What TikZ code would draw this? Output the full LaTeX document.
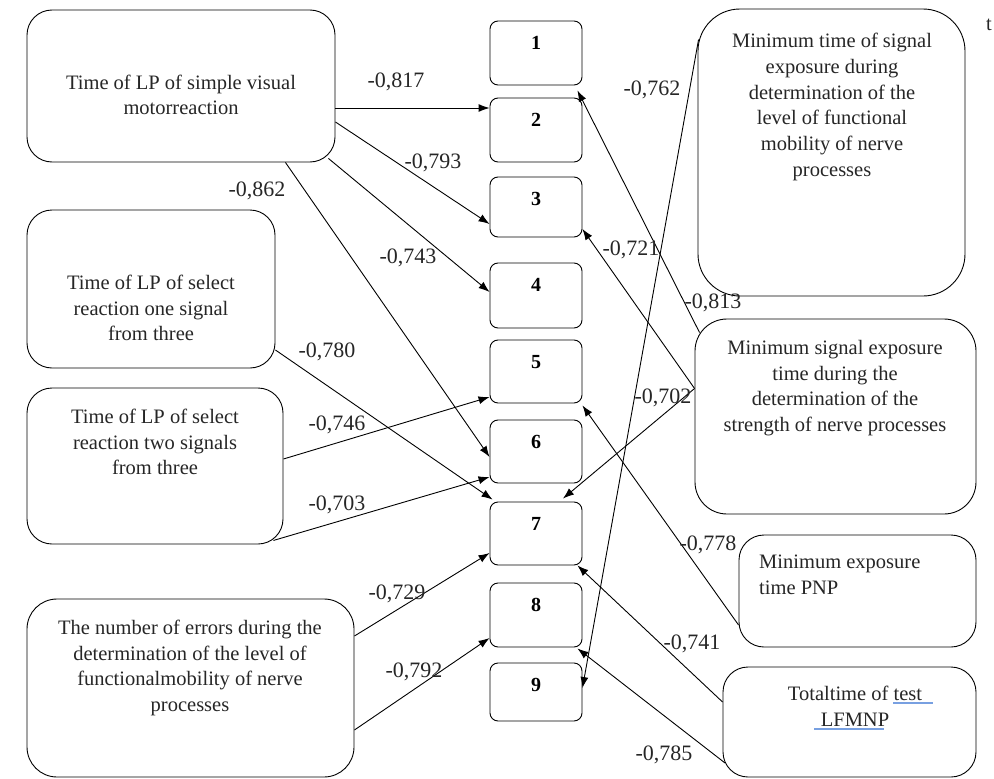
\documentclass[tikz,border=0pt]{standalone}
\usepackage{fontspec}
\setmainfont{Liberation Serif}
\usetikzlibrary{arrows.meta,calc}
\definecolor{spellblue}{RGB}{120,160,225}
\tikzset{
  bigbox/.style={draw, line width=0.9pt, rounded corners=25pt, inner sep=0pt},
  smallbox/.style={draw, line width=0.9pt, rounded corners=8pt, minimum width=92pt, inner sep=0pt},
  txt/.style={font=\fontsize{20.5}{25.7}\selectfont, align=center, inner sep=0pt, text=black!85},
  num/.style={font=\fontsize{20}{24}\selectfont\bfseries, inner sep=0pt},
  lbl/.style={font=\fontsize{22}{26}\selectfont, inner sep=0pt, text=black!85},
  arr/.style={-{Latex[length=11pt,width=8pt]}, line width=0.9pt},
  spell/.style={line width=2.5pt, spellblue},
}
\begin{document}
\begin{tikzpicture}[x=1pt,y=-1pt]
\useasboundingbox (0,0) rectangle (994,779);
% left boxes
\node[bigbox, minimum width=308pt, minimum height=152pt] (A) at (181,86) {};
\node[txt] (At) at (181,95) {Time of LP of simple visual\\motorreaction};
\node[bigbox, minimum width=248pt, minimum height=158pt] (B) at (151,289) {};
\node[txt] (Bt) at (151,308) {Time of LP of select\\reaction one signal\\from three};
\node[bigbox, minimum width=256pt, minimum height=156pt] (C) at (155,466) {};
\node[txt] (Ct) at (155,442) {Time of LP of select\\reaction two signals\\from three};
\node[bigbox, minimum width=327pt, minimum height=178pt, rounded corners=30pt] (D) at (190.5,688) {};
\node[txt] (Dt) at (190,668) {The number of errors during the\\determination of the level of\\functionalmobility of nerve\\processes};
% right boxes
\node[bigbox, minimum width=267pt, minimum height=287pt, rounded corners=42pt] (E) at (831.5,152.5) {};
\node[txt] (Et) at (832,107) {Minimum time of signal\\exposure during\\determination of the\\level of functional\\mobility of nerve\\processes};
\node[bigbox, minimum width=281pt, minimum height=195pt, rounded corners=32pt] (F) at (835.5,416.5) {};
\node[txt] (Ft) at (835,388) {Minimum signal exposure\\time during the\\determination of the\\strength of nerve processes};
\node[bigbox, minimum width=237pt, minimum height=112pt] (G) at (857.5,591) {};
\node[txt, align=left, anchor=west] (Gt) at (759,575) {Minimum exposure\\time PNP};
\node[bigbox, minimum width=253pt, minimum height=110pt] (H) at (849.5,722) {};
\node[txt] (Ht) at (855,706) {Totaltime of test\\LFMNP};
\draw[spell] (893,703) -- (933,703);
\draw[spell] (814,729) -- (884,729);
\node[txt] (tstray) at (989,25) {t};
% middle boxes
\node[smallbox, minimum height=64pt] (b1) at (536,53) {};
\node[smallbox, minimum height=64pt] (b2) at (536,130) {};
\node[smallbox, minimum height=60pt] (b3) at (536,207) {};
\node[smallbox, minimum height=65pt] (b4) at (536,295.5) {};
\node[smallbox, minimum height=63pt] (b5) at (536,371.5) {};
\node[smallbox, minimum height=63pt] (b6) at (536,451.5) {};
\node[smallbox, minimum height=63pt] (b7) at (536,533.5) {};
\node[smallbox, minimum height=64pt] (b8) at (536,615) {};
\node[smallbox, minimum height=58pt] (b9) at (536,692) {};
\foreach \i in {1,...,9} {\node[num] (n\i) at ([yshift=-22pt]b\i.north) {\i};}
% connectors
\draw[arr] ([yshift=-22pt]A.east) -- ([yshift=22pt]b2.west);
\draw[arr] ([yshift=-36pt]A.east) -- ([yshift=-17pt]b3.west);
\draw[arr] ([xshift=-7pt,yshift=4pt]A.south east) -- ([yshift=3.5pt]b4.west);
\draw[arr] ([xshift=-50pt]A.south east) -- ([yshift=-5.5pt]b6.west);
\draw[arr] ([yshift=-61pt]B.east) -- ([xshift=3pt,yshift=2pt]b7.north west);
\draw[arr] ([yshift=7pt]C.east) -- ([yshift=-25.5pt]b5.west);
\draw[arr] ([xshift=-10pt,yshift=4pt]C.south east) -- ([yshift=-25.5pt]b6.west);
\draw[arr] ([yshift=52pt]D.east) -- ([yshift=-19.5pt]b7.west);
\draw[arr] ([yshift=-42pt]D.east) -- ([yshift=-23pt]b8.west);
\draw[arr] ([xshift=1pt,yshift=-31pt]E.north west) -- ([yshift=4pt]b9.east);
\draw[arr] ([xshift=5pt,yshift=-14pt]F.north west) -- ([xshift=-5pt,yshift=-5pt]b1.south east);
\draw[arr] ([yshift=28pt]F.west) -- ([yshift=-22pt]b3.east);
\draw[arr] ([yshift=28pt]F.west) -- ([xshift=27pt,yshift=3pt]b7.north);
\draw[arr] ([yshift=-34pt]G.west) -- ([yshift=-2pt]b5.south east);
\draw[arr] ([yshift=20pt]H.west) -- ([xshift=-5pt]b7.south east);
\draw[arr] ([xshift=2.5pt,yshift=-41pt]H.west) -- ([xshift=-5pt,yshift=-1pt]b8.south east);
% labels
\node[lbl] (l1) at (396,82) {-0,817};
\node[lbl] (l2) at (433,163) {-0,793};
\node[lbl] (l3) at (408,258) {-0,743};
\node[lbl] (l4) at (257,191) {-0,862};
\node[lbl] (l5) at (327,352) {-0,780};
\node[lbl] (l6) at (337,425) {-0,746};
\node[lbl] (l7) at (337,505) {-0,703};
\node[lbl] (l8) at (397,594) {-0,729};
\node[lbl] (l9) at (414,672) {-0,792};
\node[lbl] (l10) at (652,90) {-0,762};
\node[lbl] (l11) at (713,303) {-0,813};
\node[lbl] (l12) at (631,250) {-0,721};
\node[lbl] (l13) at (663,398) {-0,702};
\node[lbl] (l14) at (708,545) {-0,778};
\node[lbl] (l15) at (692,644) {-0,741};
\node[lbl] (l16) at (664,755) {-0,785};
\end{tikzpicture}
\end{document}
